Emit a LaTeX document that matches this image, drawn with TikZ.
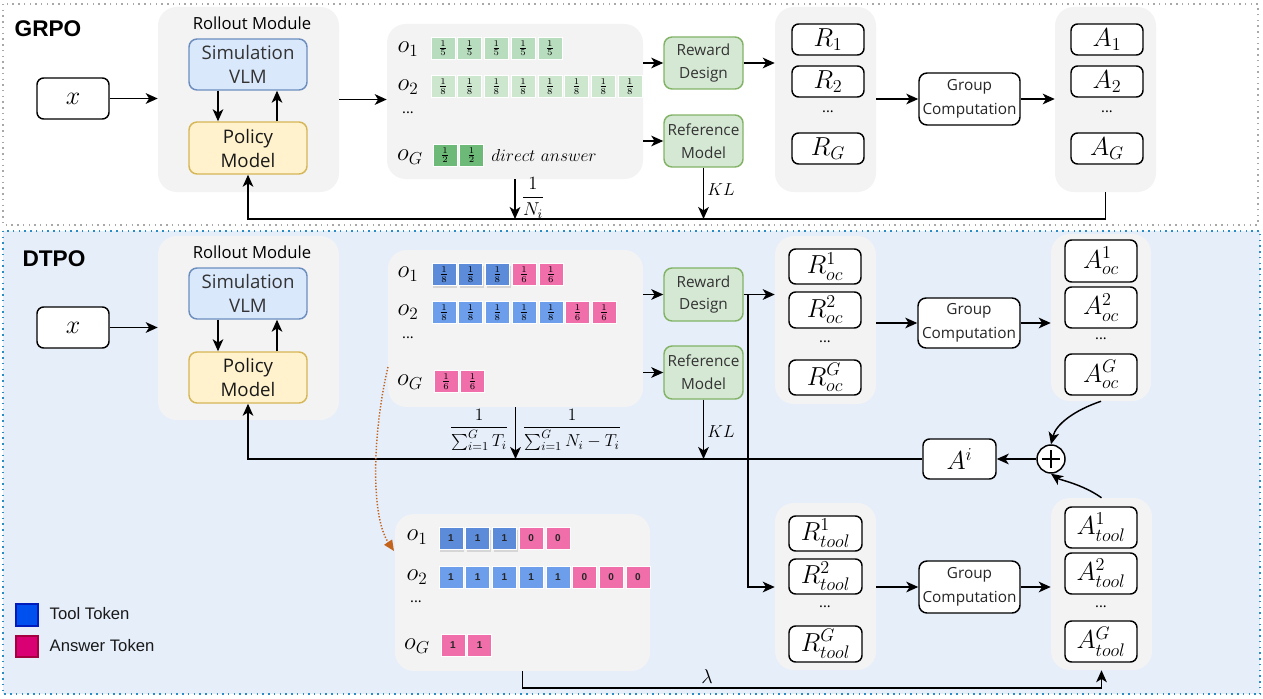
\RequirePackage{fix-cm}
\documentclass[tikz,border=0pt]{standalone}
\usepackage{amsmath}
\usepackage{fontspec}
\newfontfamily\uifont{Open Sans}
\newfontfamily\arfont{Liberation Sans}
\usetikzlibrary{arrows.meta,shadows}
\definecolor{panelgray}{HTML}{F3F3F3}
\definecolor{simfill}{HTML}{DAE8FC}
\definecolor{simdraw}{HTML}{6C8EBF}
\definecolor{polfill}{HTML}{FFF2CC}
\definecolor{poldraw}{HTML}{D6B656}
\definecolor{grnfill}{HTML}{D5E8D4}
\definecolor{grndraw}{HTML}{82B366}
\definecolor{tokA}{HTML}{B8DDBE}
\definecolor{tokB}{HTML}{CDE7CF}
\definecolor{tokC}{HTML}{6DBA78}
\definecolor{tokblue}{HTML}{6D9EEB}
\definecolor{tokbluedk}{HTML}{5C8BD9}
\definecolor{tokpink}{HTML}{F06EAA}
\definecolor{dtpobg}{HTML}{E6EEFA}
\definecolor{dtpoframe}{HTML}{2A8CC4}
\definecolor{grpoframe}{HTML}{A8A8A8}
\definecolor{orangearr}{HTML}{C4631C}
\definecolor{legblue}{HTML}{0050EF}
\definecolor{legbluedk}{HTML}{001DBC}
\definecolor{legpink}{HTML}{D80073}
\definecolor{legpinkdk}{HTML}{A50040}
\newcommand\mkbox[7]{\node[#2, minimum width={(#5-#3)*0.75pt}, minimum height={(#6-#4)*0.75pt}, inner sep=0pt] (#1) at ({(#3+#5)/2},{(#4+#6)/2}) {#7};}
\tikzset{
  arr/.style={-{Stealth[length=9pt,width=8pt,inset=2.5pt]}, line width=1.1pt},
  panel/.style={fill=panelgray, draw=none, rounded corners=14pt},
  wbox/.style={fill=white, draw=black, line width=1.1pt, rounded corners=5pt, font=\fontsize{19.5}{22}\selectfont},
  simbox/.style={fill=simfill, draw=simdraw, line width=1.1pt, rounded corners=6pt, align=center, font=\uifont\fontsize{14}{18}\selectfont, text=black!80},
  polbox/.style={fill=polfill, draw=poldraw, line width=1.1pt, rounded corners=6pt, align=center, font=\uifont\fontsize{14}{18}\selectfont, text=black!90},
  grnbox/.style={fill=grnfill, draw=grndraw, line width=1.1pt, rounded corners=6pt, align=center, font=\uifont\fontsize{11.5}{17}\selectfont, text=black!80},
  gcbox/.style={fill=white, draw=black, line width=1.1pt, rounded corners=6pt, align=center, font=\uifont\fontsize{11.5}{18}\selectfont, text=black!85},
  tok/.style={minimum width=18pt, minimum height=16.5pt, inner sep=0pt, draw=white, line width=0.4pt, font=\fontsize{9.5}{10}\selectfont},
  tokd/.style={minimum width=18pt, minimum height=16.5pt, inner sep=0pt, draw=white, line width=0.4pt, font=\arfont\bfseries\fontsize{7.5}{9}\selectfont, text=black!85},
  olab/.style={font=\fontsize{18.5}{21}\selectfont},
  mlab/.style={font=\fontsize{13}{16}\selectfont},
  title/.style={font=\uifont\fontsize{12.5}{15}\selectfont},
  big/.style={font=\arfont\bfseries\fontsize{17}{20}\selectfont},
  leg/.style={font=\arfont\fontsize{12.5}{15}\selectfont, anchor=west, text=black!90},
  dots/.style={font=\uifont\fontsize{11}{13}\selectfont}
}
\begin{document}
\begin{tikzpicture}[x=0.75pt,y=-0.75pt]
\useasboundingbox (0,0) rectangle (1263,699);
% ================= GRPO =================
\draw[grpoframe, line width=1.1pt, dash pattern=on 1.1pt off 3.2pt] (3,4) rectangle (1258,225);
\node[big] (grpo) at (48,29) {GRPO};
\mkbox{xa}{wbox}{37}{78}{109}{119}{$x$}
\mkbox{ra}{panel}{158}{7}{339}{192}{}
\node[title] (rta) at (252,23) {Rollout Module};
\mkbox{sa}{simbox}{189}{39}{307}{90}{Simulation\\VLM}
\mkbox{pa}{polbox}{189}{122}{307}{174}{Policy\\Model}
\draw[arr] ([xshift=-22.5pt]sa.south) -- ([xshift=-22.5pt]pa.north);
\draw[arr] ([xshift=21.75pt]pa.north) -- ([xshift=21.75pt]sa.south);
\draw[arr] (xa.east) -- (xa.east -| ra.west);
\mkbox{ta}{panel}{387}{24}{643}{179}{}
\draw[arr] (ra.east) -- (ra.east -| ta.west);
\node[olab] (oa1) at (408,49) {$o_1$};
\node[olab] (oa2) at (408,87) {$o_2$};
\node[dots] (oad) at (408,113) {...};
\node[olab] (oaG) at (410,157) {$o_G$};
\foreach \i in {0,...,4} \node[tok, fill=tokA] (ta1-\i) at ({443+\i*26.7},48) {$\frac{1}{5}$};
\foreach \i in {0,...,7} \node[tok, fill=tokB] (ta2-\i) at ({443+\i*26.7},86.5) {$\frac{1}{8}$};
\foreach \i in {0,...,1} \node[tok, fill=tokC] (taG-\i) at ({445+\i*26.7},155) {$\frac{1}{2}$};
\node[font=\fontsize{13}{15}\selectfont] (da) at (544,155) {$direct\ answer$};
\mkbox{rda}{grnbox}{664}{37}{743}{89}{Reward\\Design}
\mkbox{rfa}{grnbox}{664}{115}{743}{167}{Reference\\Model}
\draw[arr] (ta.east |- rda) -- (rda.west);
\draw[arr] (ta.east |- rfa) -- (rfa.west);
\mkbox{rca}{panel}{775}{7}{876}{192}{}
\draw[arr] (rda.east) -- (rda.east -| rca.west);
\mkbox{ra1}{wbox}{792}{24}{864}{55}{$R_1$}
\mkbox{ra2}{wbox}{792}{66}{864}{97}{$R_2$}
\node[dots] (rad) at (828,112) {...};
\mkbox{raG}{wbox}{792}{133}{864}{164}{$R_G$}
\mkbox{gca}{gcbox}{919}{73}{1020}{125}{Group\\Computation}
\mkbox{aca}{panel}{1055}{7}{1156}{192}{}
\draw[arr] (rca.east |- gca) -- (gca.west);
\draw[arr] (gca.east) -- (gca.east -| aca.west);
\mkbox{aa1}{wbox}{1071}{24}{1143}{55}{$A_1$}
\mkbox{aa2}{wbox}{1071}{66}{1143}{97}{$A_2$}
\node[dots] (aad) at (1107,112) {...};
\mkbox{aaG}{wbox}{1071}{133}{1143}{164}{$A_G$}
\coordinate (fba) at (0,219);
\draw[arr] (aca.south) -- (aca.south |- fba) -| (pa.south);
\draw[arr] (ta.south) -- (ta.south |- fba);
\node[font=\fontsize{14}{17}\selectfont] (nia) at (533,198) {$\dfrac{1}{N_i}$};
\draw[arr] (rfa.south) -- (rfa.south |- fba);
\node[mlab] (kla) at (721,190) {$KL$};
% ================= DTPO =================
\draw[dtpoframe, fill=dtpobg, line width=1.1pt, dash pattern=on 1.1pt off 3.2pt] (3,231) rectangle (1260,694);
\node[big] (dtpo) at (54,259) {DTPO};
\mkbox{xb}{wbox}{37}{307}{109}{348}{$x$}
\mkbox{rb}{panel}{158}{236}{339}{420}{}
\node[title] (rtb) at (252,252) {Rollout Module};
\mkbox{sb}{simbox}{189}{268}{307}{319}{Simulation\\VLM}
\mkbox{pb}{polbox}{189}{352}{307}{403}{Policy\\Model}
\draw[arr] ([xshift=-22.5pt]sb.south) -- ([xshift=-22.5pt]pb.north);
\draw[arr] ([xshift=21.75pt]pb.north) -- ([xshift=21.75pt]sb.south);
\draw[arr] (xb.east) -- (xb.east -| rb.west);
\mkbox{tb}{panel}{388}{250}{643}{407}{}
\node[olab] (ob1) at (408,274) {$o_1$};
\node[olab] (ob2) at (408,312) {$o_2$};
\node[dots] (obd) at (408,338) {...};
\node[olab] (obG) at (410,382) {$o_G$};
\foreach \i in {0,...,2} \node[tok, fill=tokbluedk, drop shadow={opacity=0.25,shadow xshift=1pt,shadow yshift=-2pt}] (tb1-\i) at ({444+\i*26.7},274.5) {$\frac{1}{8}$};
\foreach \i in {3,...,4} \node[tok, fill=tokpink] (tb1-\i) at ({444+\i*26.7},274.5) {$\frac{1}{6}$};
\foreach \i in {0,...,4} \node[tok, fill=tokblue] (tb2-\i) at ({444+\i*26.7},312.5) {$\frac{1}{8}$};
\foreach \i in {5,...,6} \node[tok, fill=tokpink] (tb2-\i) at ({444+\i*26.7},312.5) {$\frac{1}{6}$};
\foreach \i in {0,...,1} \node[tok, fill=tokpink] (tbG-\i) at ({446+\i*26.7},381.5) {$\frac{1}{6}$};
\mkbox{rdb}{grnbox}{664}{268}{743}{321}{Reward\\Design}
\mkbox{rfb}{grnbox}{664}{346}{743}{399}{Reference\\Model}
\draw[arr] (tb.east |- rdb) -- (rdb.west);
\draw[arr] (tb.east |- rfb) -- (rfb.west);
\mkbox{rcb}{panel}{775}{236}{876}{404}{}
\draw[arr] (rdb.east) -- (rdb.east -| rcb.west);
\mkbox{rb1}{wbox}{789}{249}{861}{284}{$R_{oc}^{1}$}
\mkbox{rb2}{wbox}{789}{292}{861}{328}{$R_{oc}^{2}$}
\node[dots] (rbd) at (825,342) {...};
\mkbox{rbG}{wbox}{789}{360}{861}{395}{$R_{oc}^{G}$}
\mkbox{gcb}{gcbox}{918}{298}{1020}{348}{Group\\Computation}
\mkbox{acb}{panel}{1051}{234}{1151}{401}{}
\draw[arr] (rcb.east |- gcb) -- (gcb.west);
\draw[arr] (gcb.east) -- (gcb.east -| acb.west);
\mkbox{ab1}{wbox}{1065}{240}{1137}{282}{$A_{oc}^{1}$}
\mkbox{ab2}{wbox}{1065}{287}{1137}{328}{$A_{oc}^{2}$}
\node[dots] (abd) at (1101,339) {...};
\mkbox{abG}{wbox}{1065}{354}{1137}{395}{$A_{oc}^{G}$}
\node[circle, draw=black, fill=white, line width=1.1pt, minimum size=21pt, inner sep=0pt] (pl) at (1051,459) {};
\draw[line width=1.1pt] ([xshift=-7pt]pl.center) -- ([xshift=7pt]pl.center);
\draw[line width=1.1pt] ([yshift=-7pt]pl.center) -- ([yshift=7pt]pl.center);
\mkbox{ai}{wbox}{923}{439}{996}{479}{$A^{i}$}
\draw[arr] (pl.west) -- (ai.east);
\draw[arr] (acb.south) .. controls (1075,410) and (1056,424) .. (pl.north);
% tool branch
\mkbox{rtc}{panel}{775}{503}{876}{670}{}
\mkbox{rc1}{wbox}{789}{516}{862}{551}{$R_{tool}^{1}$}
\mkbox{rc2}{wbox}{789}{559}{862}{594}{$R_{tool}^{2}$}
\node[dots] (rcd) at (825,607) {...};
\mkbox{rcG}{wbox}{789}{626}{862}{662}{$R_{tool}^{G}$}
\mkbox{gcc}{gcbox}{919}{561}{1020}{613}{Group\\Computation}
\mkbox{atc}{panel}{1051}{498}{1152}{670}{}
\mkbox{ac1}{wbox}{1065}{507}{1137}{548}{$A_{tool}^{1}$}
\mkbox{ac2}{wbox}{1065}{553}{1137}{594}{$A_{tool}^{2}$}
\node[dots] (acd) at (1101,607) {...};
\mkbox{acG}{wbox}{1065}{621}{1137}{662}{$A_{tool}^{G}$}
\draw[arr] (rtc.east |- gcc) -- (gcc.west);
\draw[arr] (gcc.east) -- (gcc.east -| atc.west);
\draw[arr] (atc.north) .. controls (1082,484) and (1060,480) .. (pl.south);
\coordinate (brx) at (748,0);
\draw[arr] (rdb.east -| brx) -- (brx |- gcc) -- (gcc -| rtc.west);
% feedback
\draw[arr] (ai.west) -- (ai.west -| pb.south) -- (pb.south);
\draw[arr] (tb.south) -- (tb.south |- ai.west);
\node[mlab] (fl) at (479,430) {$\dfrac{1}{\sum_{i=1}^{G} T_i}$};
\node[mlab] (fr) at (572,430) {$\dfrac{1}{\sum_{i=1}^{G} N_i - T_i}$};
\draw[arr] (rfb.south) -- (rfb.south |- ai.west);
\node[mlab] (klb) at (721,432) {$KL$};
% bottom token panel
\mkbox{tc}{panel}{395}{514}{650}{671}{}
\node[olab] (oc1) at (417,537) {$o_1$};
\node[olab] (oc2) at (417,577) {$o_2$};
\node[dots] (ocd) at (416,602) {...};
\node[olab] (ocG) at (417,646) {$o_G$};
\foreach \i in {0,...,2} \node[tokd, fill=tokbluedk, drop shadow={opacity=0.25,shadow xshift=1pt,shadow yshift=-2pt}] (tc1-\i) at ({451+\i*26.7},538.5) {1};
\foreach \i in {3,...,4} \node[tokd, fill=tokpink] (tc1-\i) at ({451+\i*26.7},538.5) {0};
\foreach \i in {0,...,4} \node[tokd, fill=tokblue] (tc2-\i) at ({451+\i*26.7},577) {1};
\foreach \i in {5,...,7} \node[tokd, fill=tokpink] (tc2-\i) at ({451+\i*26.7},577) {0};
\foreach \i in {0,...,1} \node[tokd, fill=tokpink] (tcG-\i) at ({453+\i*26.7},645.5) {1};
\coordinate (lam) at (0,688);
\draw[arr] (tc.south) -- (tc.south |- lam) -| (atc.south);
\node[font=\fontsize{15}{17}\selectfont] (lamlab) at (707,677) {$\lambda$};
% dotted orange arrow
\coordinate (ost) at (388,367);
\coordinate (oen) at (394,551);
\draw[orangearr, line width=1.1pt, dash pattern=on 1pt off 1.3pt, -{Triangle[length=8pt,width=7pt]}] (ost) .. controls (373,430) and (370,515) .. (oen);
% legend
\mkbox{lgt}{draw=legbluedk, fill=legblue, line width=0.8pt}{16}{604}{38}{626}{}
\mkbox{lga}{draw=legpinkdk, fill=legpink, line width=0.8pt}{16}{636}{38}{657}{}
\node[leg] (lgtt) at (45,614) {Tool Token};
\node[leg] (lgat) at (45,646) {Answer Token};
\end{tikzpicture}
\end{document}
